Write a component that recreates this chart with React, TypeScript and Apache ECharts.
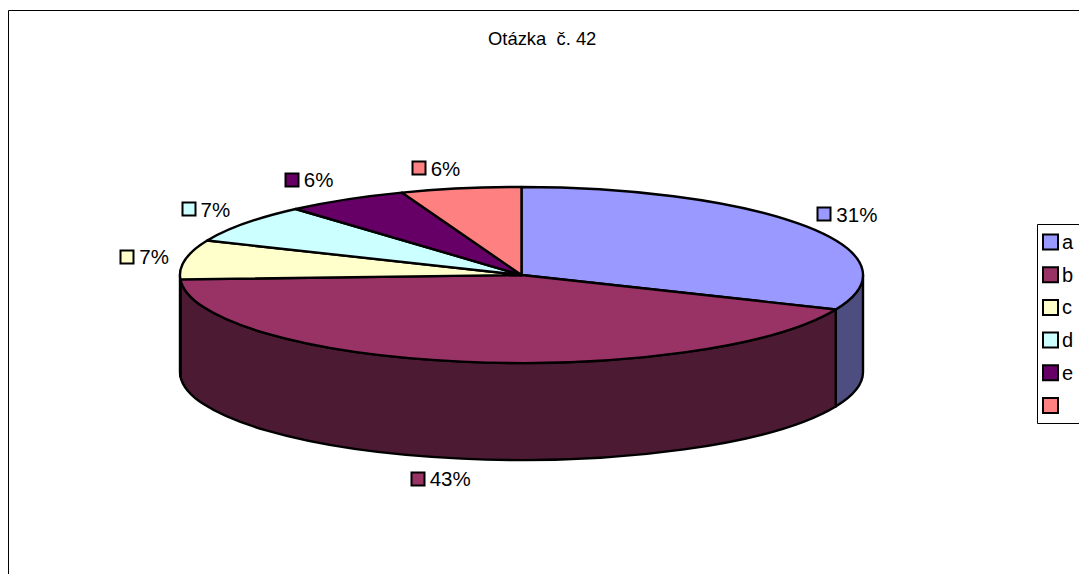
import React, { useEffect, useRef } from "react";
import * as echarts from "echarts";

const titleText = "Otázka  č. 42";
const categories = ["a", "b", "c", "d", "e", " "];
const shares = [31.4, 42.8, 7.2, 7.1, 5.8, 5.7];
const topColors = ["#9999FF", "#993366", "#FFFFCC", "#CCFFFF", "#660066", "#FF8080"];
const sideColors = ["#4D4D80", "#4D1A33", "#808066", "#668080", "#330033", "#804040"];
const labelOffsets = [
  [18, -12],
  [-44, 20],
  [-58, -3],
  [-56, -14],
  [-54, -20],
  [-42, -20],
];

const CX = 521.5;
const CY = 275;
const RX = 341.5;
const RY = 88;
const DEPTH = 97;
const FAMILY = '"Liberation Sans", Arial, sans-serif';
const FONT = `20.5px ${FAMILY}`;

const total = shares.reduce((s, v) => s + v, 0);
const point = (t: number, dy = 0) => [CX + RX * Math.sin(t), CY - RY * Math.cos(t) + dy];

function sliceElements(index: number, value: number) {
  const before = shares.slice(0, index).reduce((s, v) => s + v, 0);
  const a0 = (before / total) * Math.PI * 2;
  const a1 = ((before + value) / total) * Math.PI * 2;
  const children: any[] = [];

  // visible wall: the part of the rim that lies on the front half
  const s0 = Math.max(a0, Math.PI / 2);
  const s1 = Math.min(a1, (Math.PI * 3) / 2);
  if (s1 > s0) {
    const [x0, y0] = point(s0);
    const [x1, y1] = point(s1);
    children.push({
      type: "path",
      shape: {
        pathData: `M${x0} ${y0}A${RX} ${RY} 0 0 1 ${x1} ${y1}L${x1} ${y1 + DEPTH}A${RX} ${RY} 0 0 0 ${x0} ${y0 + DEPTH}Z`,
      },
      style: { fill: sideColors[index], stroke: "#000", lineWidth: 2.4, lineJoin: "round" },
    });
  }

  const [tx0, ty0] = point(a0);
  const [tx1, ty1] = point(a1);
  const large = a1 - a0 > Math.PI ? 1 : 0;
  children.push({
    type: "path",
    shape: {
      pathData: `M${CX} ${CY}L${tx0} ${ty0}A${RX} ${RY} 0 ${large} 1 ${tx1} ${ty1}Z`,
    },
    style: { fill: topColors[index], stroke: "#000", lineWidth: 2.4, lineJoin: "round" },
  });

  // data label with its legend key, hung from the rim at the slice's middle angle
  const mid = (a0 + a1) / 2;
  const front = Math.cos(mid) < 0 && Math.abs(Math.sin(mid)) < 0.9;
  const [ax, ay] = point(mid, front ? DEPTH : 0);
  const lx = ax + labelOffsets[index][0];
  const ly = ay + labelOffsets[index][1];
  children.push({
    type: "rect",
    shape: { x: Math.round(lx) - 6.5, y: Math.round(ly) - 6.5, width: 13, height: 13 },
    style: { fill: topColors[index], stroke: "#000", lineWidth: 2 },
  });
  children.push({
    type: "text",
    style: {
      text: `${Math.round((value / total) * 100)}%`,
      x: lx + 12,
      y: ly,
      font: FONT,
      fill: "#000",
      verticalAlign: "middle",
      align: "left",
    },
  });
  return { type: "group", children };
}

export default function App() {
  const ref = useRef<HTMLDivElement>(null);
  useEffect(() => {
    const chart = echarts.init(ref.current!, null, { renderer: "svg" });
    chart.setOption({
      animation: false,
      backgroundColor: "#fff",
      title: {
        text: titleText,
        left: 488,
        top: 29,
        padding: 0,
        textStyle: {
          fontFamily: FAMILY,
          fontSize: 18.4,
          fontWeight: "normal",
          color: "#000",
        },
      },
      legend: {
        orient: "vertical",
        left: 1042,
        top: 232,
        padding: 0,
        itemWidth: 15,
        itemHeight: 15,
        itemGap: 12.7,
        selectedMode: false,
        icon: "rect",
        data: categories,
        itemStyle: { borderColor: "#000", borderWidth: 2 },
        textStyle: {
          fontFamily: FAMILY,
          fontSize: 20,
          color: "#000",
          padding: [0, 0, 0, -1],
        },
      },
      graphic: [
        {
          type: "polyline",
          shape: { points: [[8.5, 574], [8.5, 10.5], [1079, 10.5]] },
          style: { fill: "none", stroke: "#000", lineWidth: 1 },
          silent: true,
        },
        {
          type: "rect",
          shape: { x: 1037.5, y: 224.5, width: 80, height: 199 },
          style: { fill: "#fff", stroke: "#000", lineWidth: 1 },
          silent: true,
          z: -1,
        },
      ],
      series: categories.map((name, i) => ({
        type: "custom",
        name,
        coordinateSystem: "none",
        silent: true,
        clip: false,
        itemStyle: { color: topColors[i] },
        data: [[shares[i]]],
        renderItem: (_p: any, api: any) => sliceElements(i, api.value(0)),
      })),
    });
    return () => chart.dispose();
  }, []);
  return (
    <div
      ref={ref}
      style={{ position: "absolute", left: 0, top: 0, width: 1079, height: 574 }}
    />
  );
}
